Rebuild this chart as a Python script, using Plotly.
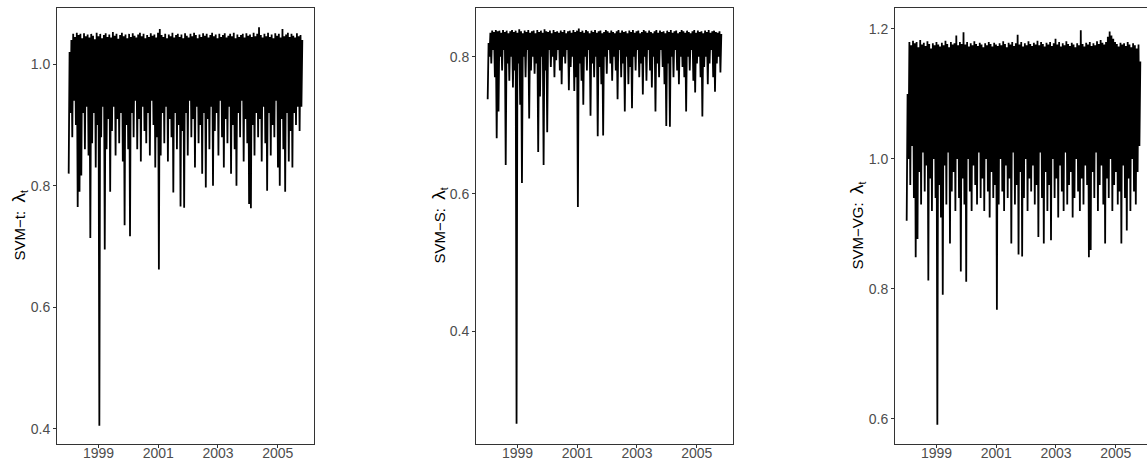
import pandas as pd
import plotly.graph_objects as go

# ---------------- data ----------------
series_start = "1998-01-02"
series_end = "2005-10-28"

# SVM-t: alternating local highs / local lows of lambda_t
svm_t_high = [1.02,1.04,1.05,1.045,1.052,1.048,1.05,1.043,1.051,1.046,
              1.049,1.044,1.05,1.047,1.041,1.052,1.046,1.05,1.043,1.048,
              1.051,1.045,1.049,1.044,1.053,1.047,1.05,1.042,1.048,1.052,
              1.046,1.049,1.043,1.05,1.045,1.051,1.047,1.044,1.049,1.052,
              1.046,1.05,1.043,1.048,1.045,1.051,1.047,1.049,1.044,1.052,
              1.058,1.048,1.045,1.05,1.043,1.049,1.046,1.052,1.044,1.048,
              1.05,1.045,1.049,1.043,1.051,1.047,1.044,1.05,1.046,1.052,
              1.048,1.043,1.049,1.045,1.051,1.047,1.05,1.044,1.048,1.052,
              1.046,1.049,1.043,1.05,1.045,1.048,1.051,1.044,1.047,1.05,
              1.046,1.052,1.043,1.049,1.045,1.048,1.05,1.044,1.051,1.047,
              1.049,1.045,1.052,1.046,1.05,1.061,1.048,1.044,1.05,1.046,
              1.052,1.045,1.049,1.043,1.051,1.047,1.05,1.044,1.058,1.046,
              1.049,1.052,1.045,1.05,1.047,1.044,1.051,1.046,1.048,1.04]
svm_t_low = [0.82,0.92,0.88,0.94,0.90,0.765,0.79,0.817,0.92,0.86,
             0.93,0.85,0.714,0.87,0.92,0.83,0.90,0.405,0.88,0.93,
             0.695,0.86,0.91,0.79,0.89,0.93,0.85,0.91,0.87,0.92,
             0.84,0.735,0.90,0.86,0.717,0.92,0.88,0.94,0.86,0.91,
             0.84,0.93,0.89,0.87,0.92,0.85,0.94,0.90,0.83,0.88,
             0.662,0.85,0.92,0.87,0.93,0.84,0.91,0.88,0.789,0.92,
             0.86,0.90,0.766,0.89,0.764,0.92,0.85,0.94,0.88,0.91,
             0.83,0.93,0.87,0.90,0.82,0.92,0.797,0.91,0.86,0.93,
             0.80,0.89,0.92,0.85,0.94,0.88,0.83,0.91,0.87,0.93,
             0.82,0.90,0.86,0.80,0.92,0.88,0.94,0.84,0.91,0.87,
             0.77,0.763,0.90,0.85,0.92,0.88,0.91,0.84,0.93,0.87,
             0.792,0.92,0.85,0.90,0.88,0.94,0.83,0.80,0.91,0.86,
             0.79,0.92,0.84,0.89,0.83,0.92,0.90,0.93,0.89,0.93]

# SVM-S
svm_s_high = [0.82,0.835,0.838,0.836,0.839,0.837,0.838,0.835,0.839,0.836,
              0.838,0.834,0.837,0.839,0.836,0.838,0.835,0.84,0.837,0.834,
              0.838,0.836,0.839,0.835,0.837,0.838,0.834,0.839,0.836,0.838,
              0.835,0.84,0.837,0.836,0.838,0.834,0.839,0.836,0.837,0.835,
              0.838,0.836,0.839,0.834,0.837,0.838,0.835,0.839,0.836,0.838,
              0.841,0.836,0.838,0.835,0.839,0.837,0.834,0.838,0.836,0.839,
              0.835,0.837,0.838,0.834,0.836,0.839,0.837,0.835,0.838,0.836,
              0.834,0.837,0.839,0.835,0.838,0.836,0.837,0.834,0.838,0.836,
              0.839,0.835,0.837,0.838,0.834,0.836,0.839,0.837,0.835,0.838,
              0.836,0.834,0.837,0.839,0.835,0.838,0.836,0.837,0.834,0.838,
              0.836,0.839,0.835,0.837,0.838,0.834,0.836,0.839,0.837,0.835,
              0.838,0.836,0.834,0.837,0.839,0.835,0.838,0.836,0.837,0.834,
              0.838,0.836,0.839,0.835,0.837,0.838,0.836,0.835,0.837,0.833]
svm_s_low = [0.738,0.80,0.79,0.81,0.77,0.681,0.72,0.80,0.78,0.81,
             0.642,0.79,0.765,0.80,0.755,0.78,0.265,0.79,0.73,0.616,
             0.80,0.77,0.81,0.71,0.78,0.80,0.775,0.79,0.661,0.742,
             0.80,0.642,0.78,0.69,0.81,0.785,0.80,0.77,0.795,0.81,
             0.78,0.76,0.80,0.79,0.81,0.751,0.785,0.80,0.75,0.77,
             0.581,0.79,0.765,0.73,0.80,0.78,0.81,0.714,0.79,0.77,
             0.80,0.684,0.785,0.76,0.685,0.80,0.775,0.81,0.79,0.765,
             0.80,0.78,0.738,0.81,0.77,0.79,0.72,0.80,0.76,0.785,
             0.725,0.80,0.78,0.81,0.77,0.79,0.745,0.80,0.765,0.81,
             0.78,0.755,0.80,0.72,0.79,0.77,0.81,0.785,0.76,0.699,
             0.79,0.698,0.80,0.77,0.81,0.78,0.76,0.80,0.785,0.77,
             0.72,0.80,0.78,0.81,0.765,0.748,0.79,0.80,0.77,0.713,
             0.785,0.80,0.76,0.79,0.81,0.77,0.749,0.79,0.80,0.777]

# SVM-VG
svm_vg_high = [1.10,1.18,1.175,1.182,1.178,1.18,1.172,1.183,1.176,1.179,
               1.174,1.181,1.177,1.17,1.178,1.175,1.18,1.176,1.173,1.179,
               1.175,1.182,1.177,1.172,1.18,1.176,1.178,1.19,1.175,1.18,
               1.177,1.195,1.176,1.18,1.173,1.178,1.175,1.181,1.177,1.174,
               1.179,1.176,1.172,1.178,1.175,1.18,1.177,1.173,1.179,1.176,
               1.174,1.178,1.175,1.181,1.177,1.172,1.179,1.176,1.18,1.174,
               1.178,1.191,1.176,1.18,1.173,1.178,1.175,1.181,1.177,1.174,
               1.179,1.176,1.182,1.175,1.18,1.177,1.173,1.179,1.176,1.18,
               1.174,1.178,1.185,1.176,1.18,1.173,1.178,1.175,1.181,1.177,
               1.174,1.179,1.176,1.172,1.178,1.175,1.198,1.177,1.173,1.179,
               1.176,1.18,1.174,1.178,1.175,1.181,1.177,1.183,1.179,1.176,
               1.18,1.188,1.196,1.19,1.185,1.18,1.177,1.173,1.179,1.176,
               1.178,1.174,1.18,1.176,1.172,1.178,1.175,1.17,1.176,1.15]
svm_vg_low = [0.905,1.00,0.96,1.02,0.94,0.849,0.877,0.98,0.93,1.01,
              0.95,0.99,0.813,0.97,0.92,1.00,0.94,0.591,0.96,0.91,
              0.791,0.99,0.93,1.01,0.87,0.95,0.98,0.92,1.00,0.94,
              0.827,0.97,0.93,0.811,1.00,0.95,0.92,0.99,0.96,0.93,
              1.01,0.94,0.97,0.92,1.00,0.95,0.91,0.98,0.94,0.96,
              0.768,0.93,1.00,0.95,0.92,0.99,0.94,0.97,0.87,1.01,
              0.93,0.96,0.853,0.98,0.85,0.94,1.00,0.92,0.97,0.95,
              0.99,0.93,0.96,0.88,1.01,0.94,0.87,0.98,0.92,0.96,
              0.875,1.00,0.94,0.97,0.91,0.99,0.95,0.92,1.01,0.93,
              0.96,0.98,0.91,0.94,1.00,0.95,0.92,0.97,0.93,0.99,
              0.96,0.849,0.86,0.98,0.94,1.01,0.92,0.96,0.99,0.93,
              0.87,0.97,0.94,1.00,0.92,0.96,0.98,0.93,0.95,0.87,
              0.99,0.94,0.89,0.97,0.92,1.00,0.95,0.93,0.98,1.02]

x_tick_labels = ["1999", "2001", "2003", "2005"]
x_tick_dates = ["1999-01-01", "2001-01-01", "2003-01-01", "2005-01-01"]
y_ticks_t = [0.4, 0.6, 0.8, 1.0]
y_ticks_s = [0.4, 0.6, 0.8]
y_ticks_vg = [0.6, 0.8, 1.0, 1.2]
model_names = ["SVM−t:", "SVM−S:", "SVM−VG:"]


def interleave(lows, highs):
    out = []
    for lo, hi in zip(lows, highs):
        out.extend([lo, hi])
    return out


panels = [
    (interleave(svm_t_low, svm_t_high), y_ticks_t, [0.375, 1.0926]),
    (interleave(svm_s_low, svm_s_high), y_ticks_s, [0.2354, 0.871]),
    (interleave(svm_vg_low, svm_vg_high), y_ticks_vg, [0.5615, 1.2323]),
]

# ---------------- layout ----------------
W, H = 1147, 461
panel_px = [(57, 314), (476, 733), (895, 1152)]
plot_top, plot_bottom = 8, 444
title_cx = [18.5, 438.5, 856.5]

t0 = pd.Timestamp(series_start)
t1 = pd.Timestamp(series_end)
span = t1 - t0
pad = span * 0.05
full_lo = t0 - pad
full_hi = t1 + pad

fig = go.Figure()
FONT = "Liberation Sans, Arial, sans-serif"
axis_font = dict(family=FONT, size=14, color="#4D4D4D")

for k, (yvals, yt, yr) in enumerate(panels):
    xs = pd.date_range(t0, t1, periods=len(yvals))
    sfx = "" if k == 0 else str(k + 1)
    fig.add_trace(go.Scatter(x=xs, y=yvals, mode="lines",
                             line=dict(color="black", width=1.8),
                             xaxis="x" + sfx, yaxis="y" + sfx,
                             showlegend=False, hoverinfo="skip"))
    left, right = panel_px[k]
    vis_right = min(right, W)
    frac = (vis_right - left) / (right - left)
    x_hi = full_lo + (full_hi - full_lo) * frac
    common = dict(showline=True, mirror=True, linecolor="#333333", linewidth=1,
                  ticks="outside", ticklen=3, tickwidth=1, tickcolor="#333333",
                  showgrid=False, zeroline=False, tickfont=axis_font, automargin=False)
    fig.update_layout(**{
        "xaxis" + sfx: dict(domain=[left / W, vis_right / W], anchor="y" + sfx,
                            type="date", range=[str(full_lo), str(x_hi)],
                            tickvals=x_tick_dates, ticktext=x_tick_labels,
                            ticklabelstandoff=-7, **common),
        "yaxis" + sfx: dict(domain=[1 - plot_bottom / H, 1 - plot_top / H], anchor="x" + sfx,
                            range=yr, tickvals=yt, ticktext=[f"{v:.1f}" for v in yt], **common),
    })
    title = (model_names[k] + "&nbsp;&nbsp;<span style='font-size:19px'>λ</span>"
             "<sub>t</sub>")
    fig.add_annotation(text=title, xref="paper", yref="paper",
                       x=title_cx[k] / W, y=1 - (plot_top + plot_bottom) / 2 / H,
                       xanchor="center", yanchor="middle", textangle=-90, showarrow=False,
                       font=dict(family=FONT, size=15, color="black"))

fig.update_layout(width=W, height=H, margin=dict(l=0, r=0, t=0, b=0),
                  paper_bgcolor="white", plot_bgcolor="white")

fig.write_html("out.html")
